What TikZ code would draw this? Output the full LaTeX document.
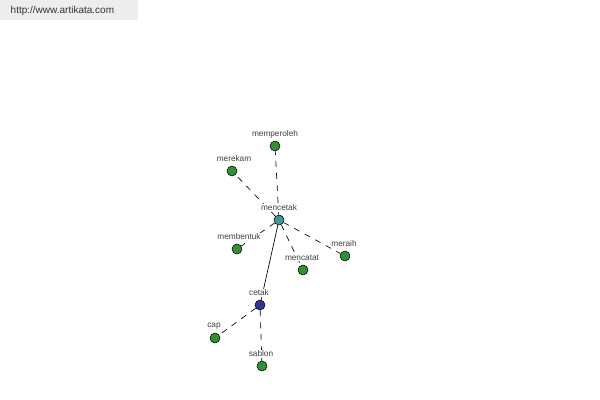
\documentclass[tikz,border=0pt]{standalone}
\usepackage{fontspec}
\setmainfont{Liberation Sans}
\begin{document}
\begin{tikzpicture}[x=0.75pt,y=-0.75pt,
  dot/.style={circle,draw=black,line width=0.4pt,minimum size=7.5pt,inner sep=0pt},
  leaf/.style={dot,fill=green!45!black!80},
  lab/.style={font=\fontsize{6.2pt}{7pt}\selectfont,text=black!75,fill=white,inner sep=0.5pt},
  dline/.style={dash pattern=on 4.5pt off 4.5pt,line width=0.5pt}]
\useasboundingbox (0,0) rectangle (600,400);
\fill[black!7] (0,0) rectangle (138,20);
\node[anchor=west,font=\fontsize{7.5pt}{9pt}\selectfont,text=black!80] (url) at (6,11) {http://www.artikata.com};
\node[dot,fill=teal!70!white!90!black] (mencetak) at (279,220) {};
\node[dot,fill=blue!50!black!80] (cetak) at (260,305) {};
\node[leaf] (memperoleh) at (275,146) {};
\node[leaf] (merekam) at (232,171) {};
\node[leaf] (membentuk) at (237,249) {};
\node[leaf] (mencatat) at (303,270) {};
\node[leaf] (meraih) at (345,256) {};
\node[leaf] (cap) at (215,338) {};
\node[leaf] (sablon) at (262,366) {};
\draw[line width=0.5pt] (mencetak) -- (cetak);
\foreach \n in {memperoleh,merekam,membentuk,mencatat,meraih} \draw[dline] (mencetak) -- (\n);
\foreach \n in {cap,sablon} \draw[dline] (cetak) -- (\n);
\node[lab] (l1) at (279,208) {mencetak};
\node[lab] (l2) at (259,293) {cetak};
\node[lab] (l3) at (275,134) {memperoleh};
\node[lab] (l4) at (234,159) {merekam};
\node[lab] (l5) at (239,237) {membentuk};
\node[lab] (l6) at (302,258) {mencatat};
\node[lab] (l7) at (344,244) {meraih};
\node[lab] (l8) at (214,326) {cap};
\node[lab] (l9) at (261,354) {sablon};
\end{tikzpicture}
\end{document}
